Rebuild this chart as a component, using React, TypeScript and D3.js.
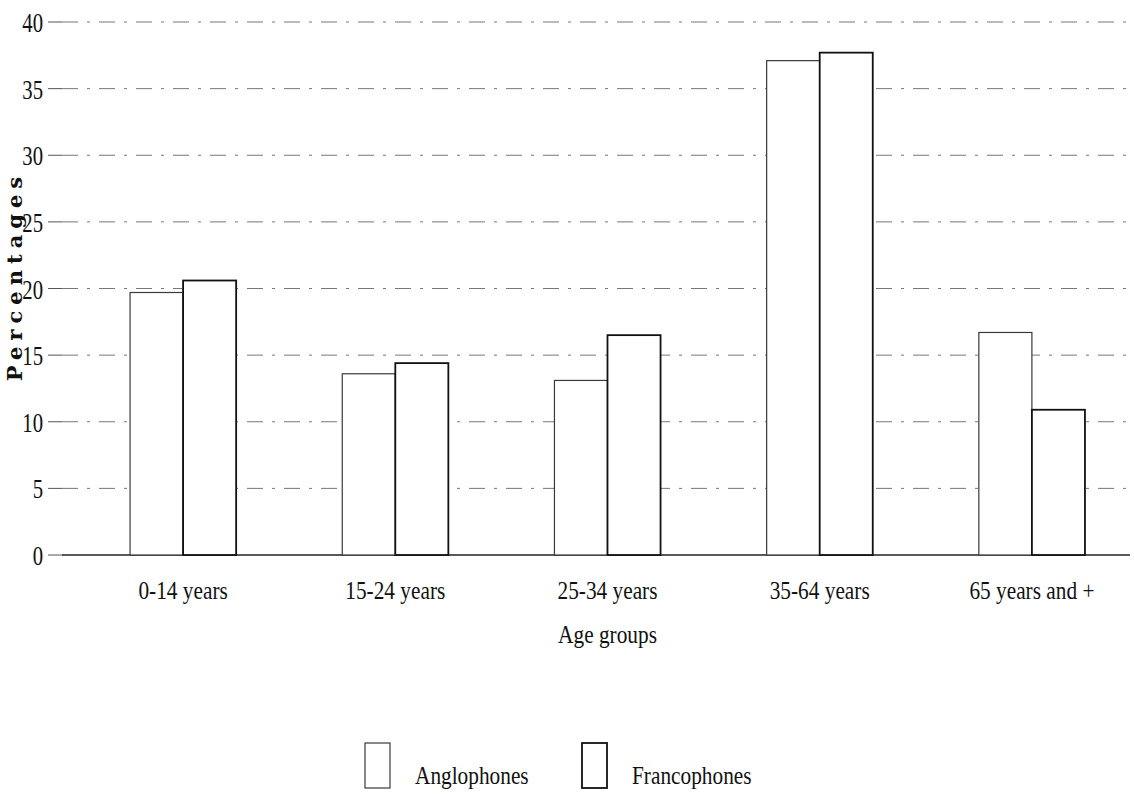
import * as d3 from "d3";

// Age-group distribution
const ageGroups = ["0-14 years", "15-24 years", "25-34 years", "35-64 years", "65 years and +"];
const anglophones = [19.7, 13.6, 13.1, 37.1, 16.7];
const francophones = [20.6, 14.4, 16.5, 37.7, 10.9];
const seriesNames = ["Anglophones", "Francophones"];
const yTicks = [0, 5, 10, 15, 20, 25, 30, 35, 40];

const W = 1134;
const H = 794;
const FONT = "'Liberation Serif', 'Times New Roman', serif";

// the scan uses a narrow Times; squeeze the glyphs horizontally around the anchor
function NarrowText(props: {
  x: number;
  y: number;
  anchor?: "start" | "middle" | "end";
  dy?: string;
  size?: number;
  squeeze?: number;
  children: string | number;
}) {
  const { x, y, anchor = "start", dy, size = 26, squeeze = 0.82, children } = props;
  return (
    <g transform={`translate(${x},${y}) scale(${squeeze},1)`}>
      <text textAnchor={anchor} dy={dy} fontSize={size} fill="#111">
        {children}
      </text>
    </g>
  );
}

export default function App() {
  const margin = { top: 22, bottom: 239, left: 62, right: 4 };
  const plotBottom = H - margin.bottom;

  const y = d3.scaleLinear().domain([0, 40]).range([plotBottom, margin.top]);

  const x = d3
    .scaleBand<string>()
    .domain(ageGroups)
    .range([77, 1138])
    .paddingInner(0.5)
    .paddingOuter(0.25);

  const xs = d3.scaleBand<string>().domain(seriesNames).range([0, x.bandwidth()]);

  const rows = ageGroups.map((g, i) => ({
    group: g,
    values: [
      { name: seriesNames[0], value: anglophones[i] },
      { name: seriesNames[1], value: francophones[i] },
    ],
  }));

  const strokeFor = (name: string) => (name === "Anglophones" ? "#3a3a3a" : "#111");
  const widthFor = (name: string) => (name === "Anglophones" ? 1.2 : 1.8);

  return (
    <svg
      width={W}
      height={H}
      style={{ position: "absolute", left: 0, top: 0, background: "#fff" }}
      fontFamily={FONT}
    >
      {/* gridlines + tick marks */}
      {yTicks.map((t) => (
        <g key={t}>
          <line x1={48} x2={margin.left} y1={y(t)} y2={y(t)} stroke="#555" strokeWidth={1} />
          <line
            x1={margin.left}
            x2={W - 4}
            y1={y(t)}
            y2={y(t)}
            stroke={t === 0 ? "#222" : "#777"}
            strokeWidth={t === 0 ? 1.4 : 1}
            strokeDasharray={t === 0 ? undefined : "16 9 3 9"}
          />
          <NarrowText x={43} y={y(t) + 10} anchor="end" size={28} squeeze={0.74}>
            {t}
          </NarrowText>
        </g>
      ))}

      {/* bars */}
      {rows.map((r) => (
        <g key={r.group} transform={`translate(${x(r.group)},0)`}>
          {r.values.map((v) => (
            <rect
              key={v.name}
              x={xs(v.name)}
              y={y(v.value)}
              width={xs.bandwidth()}
              height={y(0) - y(v.value)}
              fill="#fff"
              stroke={strokeFor(v.name)}
              strokeWidth={widthFor(v.name)}
            />
          ))}
        </g>
      ))}

      {/* category labels */}
      {ageGroups.map((g) => (
        <NarrowText key={g} x={x(g)! + x.bandwidth() / 2} y={599} anchor="middle">
          {g}
        </NarrowText>
      ))}

      <NarrowText x={x(ageGroups[2])! + x.bandwidth() / 2} y={643} anchor="middle">
        Age groups
      </NarrowText>

      <text
        transform={`translate(22,276) rotate(-90)`}
        textAnchor="middle"
        fontFamily="'DejaVu Serif', serif"
        fontSize={21}
        fontWeight="bold"
        letterSpacing={6}
        fill="#111"
      >
        Percentages
      </text>

      {/* legend */}
      {seriesNames.map((name, i) => {
        const lx = 365 + i * 217;
        return (
          <g key={name}>
            <rect
              x={lx}
              y={743}
              width={25}
              height={45}
              fill="#fff"
              stroke={strokeFor(name)}
              strokeWidth={widthFor(name)}
            />
            <NarrowText x={lx + 50} y={784}>
              {name}
            </NarrowText>
          </g>
        );
      })}
    </svg>
  );
}
